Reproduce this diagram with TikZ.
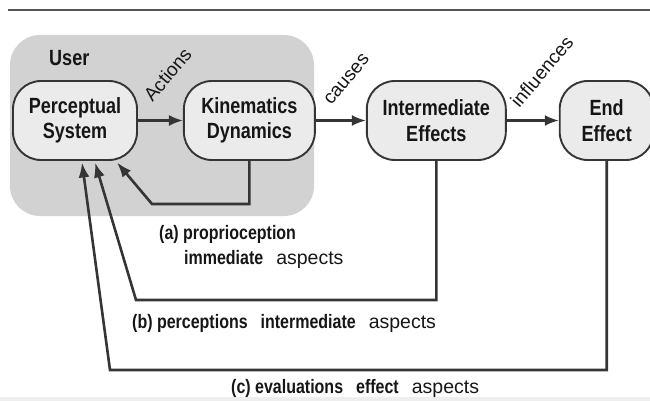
\documentclass[tikz,border=0pt]{standalone}
\usepackage{fontspec}
\setmainfont{Liberation Sans}
\newfontfamily\boxfont[FakeStretch=0.82]{Liberation Sans Bold}
\newfontfamily\plainfont{Liberation Sans}
\usepackage{xcolor}
\usetikzlibrary{arrows.meta,positioning}
\definecolor{ufbInk}{HTML}{161616}
\definecolor{ufbLine}{HTML}{353535}
\definecolor{ufbBoxFill}{HTML}{EBEBEB}
\definecolor{ufbZone}{HTML}{D2D2D2}
\definecolor{ufbRule}{HTML}{555555}
\definecolor{ufbBand}{HTML}{EEEEEE}
\newcommand{\wgap}{\hspace{13pt}}
\newcommand{\asp}{{\plainfont aspects}}
\tikzset{
  stage/.style={
    draw=ufbLine,
    line width=1.9pt,
    rounded corners=28pt,
    fill=ufbBoxFill,
    align=center,
    minimum height=79pt,
    inner sep=2pt,
    text=ufbInk,
    font={\boxfont\fontsize{22}{25.5}\selectfont}
  },
  zone/.style={
    fill=ufbZone,
    rounded corners=30pt,
    minimum width=304pt,
    minimum height=181pt,
    inner sep=0pt
  },
  verb/.style={rotate=50, inner sep=0pt, text=ufbInk, font={\fontsize{19}{22}\selectfont}},
  fbnote/.style={anchor=base west, inner sep=0pt, text=ufbInk, font={\boxfont\fontsize{19.5}{25}\selectfont}},
  arrow/.style={-{Latex[length=14pt,width=11pt]}, line width=2.2pt, draw=ufbLine},
  fbarrow/.style={-{Latex[length=15pt,width=11pt]}, line width=2.6pt, draw=ufbLine}
}
\begin{document}
\begin{tikzpicture}[x=1pt, y=-1pt, node distance=45pt]
  \useasboundingbox (0,0) rectangle (650,401);
  \fill[ufbBand] (0,397) rectangle (650,401);
  \draw[ufbRule, line width=2.5pt] (8,10) -- (650,10);

  % user zone
  \node[zone] (user) at (162,125.5) {};
  \node[anchor=base west, inner sep=0pt, text=ufbInk, font={\boxfont\fontsize{22}{25}\selectfont}] (userlbl) at (49,66) {User};

  % chain of stages
  \node[stage, minimum width=124pt] (perc) at (75,120.5) {Perceptual\\System};
  \node[stage, minimum width=131pt, right=45pt of perc] (kin) {Kinematics\\Dynamics};
  \node[stage, minimum width=139pt, right=50pt of kin] (inter) {Intermediate\\Effects};
  \node[stage, minimum width=94pt, right=52pt of inter] (endeff) {End\\Effect};

  \draw[arrow] (perc) -- (kin) node[midway, xshift=7pt, yshift=46pt, verb] (actlbl) {Actions};
  \draw[arrow] (kin) -- (inter) node[midway, xshift=6pt, yshift=41pt, verb] (causelbl) {causes};
  \draw[arrow] (inter) -- (endeff) node[midway, xshift=9pt, yshift=49pt, verb] (inflbl) {influences};

  % feedback loops
  \coordinate (aturn) at (152,204);
  \coordinate (bturn) at (136,300);
  \coordinate (cturn) at (110,370);
  \draw[fbarrow] (kin.south) |- (aturn) -- ([xshift=42pt,yshift=-1.5pt]perc.south);
  \draw[fbarrow] (inter.south) |- (bturn) -- ([xshift=20pt,yshift=-1.5pt]perc.south);
  \draw[fbarrow] (endeff.south) |- (cturn) -- ([xshift=7pt,yshift=-1.5pt]perc.south);

  \node[fbnote] (noteA) at (159,239) {(a) proprioception};
  \node[fbnote] (noteAb) at (184,264) {immediate\wgap\asp};
  \node[fbnote] (noteB) at (132,328) {(b) perceptions\wgap intermediate\wgap\asp};
  \node[fbnote] (noteC) at (231,393) {(c) evaluations\wgap effect\wgap\asp};
\end{tikzpicture}
\end{document}
